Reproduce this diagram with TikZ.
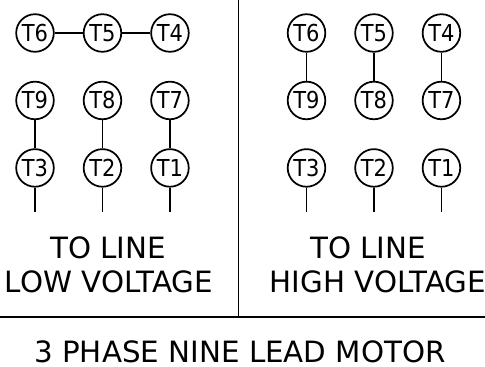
\documentclass[tikz,border=0pt]{standalone}
\usepackage{fontspec}
\setmainfont{DejaVu Sans}
\newfontfamily\leadfont[FakeStretch=0.9]{DejaVu Sans}
\usepackage{tikz}
\usetikzlibrary{positioning}
\tikzset{
    wiring diagram/.style={
            x=0.75pt,y=-0.75pt,line width=1.3pt,
            node distance=50.6pt,
            lead/.style={circle,draw,minimum size=28.2pt,inner sep=0pt,
                font=\leadfont\fontsize{17.5}{19}\selectfont},
            caption/.style={anchor=base,inner sep=0pt,text depth=0pt,
                font=\fontsize{22}{26}\selectfont}
        }
    }
\begin{document}
\begin{tikzpicture}[wiring diagram]
        \useasboundingbox (0,0) rectangle (485,367);
        \draw (238.5,0) -- (238.5,317);
        \draw (0,317) -- (485,317);
        \coordinate (tail) at (0,212);

        % low voltage
        \node [lead] (L6) at (35,33) {T6};
        \node [lead] (L5) [right of=L6] {T5};
        \node [lead] (L4) [right of=L5] {T4};
        \node [lead] (L9) [below of=L6] {T9};
        \node [lead] (L8) [right of=L9] {T8};
        \node [lead] (L7) [right of=L8] {T7};
        \node [lead] (L3) [below of=L9] {T3};
        \node [lead] (L2) [right of=L3] {T2};
        \node [lead] (L1) [right of=L2] {T1};
        \draw (L6) -- (L5);
        \draw (L5) -- (L4);
        \draw (L9) -- (L3);
        \draw (L8) -- (L2);
        \draw (L7) -- (L1);
        \draw (L3) -- (L3 |- tail);
        \draw (L2) -- (L2 |- tail);
        \draw (L1) -- (L1 |- tail);

        % high voltage
        \node [lead] (H6) at (306.5,33) {T6};
        \node [lead] (H5) [right of=H6] {T5};
        \node [lead] (H4) [right of=H5] {T4};
        \node [lead] (H9) [below of=H6] {T9};
        \node [lead] (H8) [right of=H9] {T8};
        \node [lead] (H7) [right of=H8] {T7};
        \node [lead] (H3) [below of=H9] {T3};
        \node [lead] (H2) [right of=H3] {T2};
        \node [lead] (H1) [right of=H2] {T1};
        \draw (H6) -- (H9);
        \draw (H5) -- (H8);
        \draw (H4) -- (H7);
        \draw (H3) -- (H3 |- tail);
        \draw (H2) -- (H2 |- tail);
        \draw (H1) -- (H1 |- tail);

        \node [caption] (lowA) at (108,258) {TO LINE};
        \node [caption] (lowB) at (109,292) {LOW VOLTAGE};
        \node [caption] (highA) at (368,258) {TO LINE};
        \node [caption] (highB) at (378,292) {HIGH VOLTAGE};
        \node [caption] (motor) at (240,362.5) {3 PHASE NINE LEAD MOTOR};
    \end{tikzpicture}
\end{document}
